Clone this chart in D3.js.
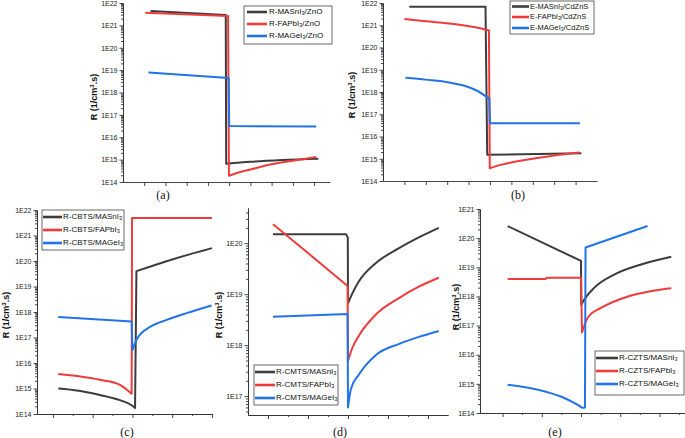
<!DOCTYPE html>
<html><head><meta charset="utf-8">
<script src="https://cdn.jsdelivr.net/npm/d3@7"></script>
<style>body{margin:0;background:#fff}svg{display:block}</style>
</head><body><svg id="c" width="685" height="438"></svg>
<script>
// ---------- DATA (position along device, arbitrary units ; R in 1/cm^3.s) ----------
// (a) ZnO
const aMASnI3 = [[1.3,4.4e21],[4.84,2.9e21],[4.86,6.5e14],[6.0,8.0e14],[7.5,9.6e14],[9.2,1.1e15]];
const aFAPbI3 = [[1.05,3.7e21],[4.95,2.6e21],[4.99,1.9e14],[5.4,2.6e14],[6.0,3.6e14],[7.0,6.2e14],[8.0,9.0e14],[9.1,1.3e15]];
const aMAGeI3 = [[1.2,7.8e18],[4.98,4.5e18],[5.0,3.2e16],[9.1,3.0e16]];
// (b) CdZnS
const bMASnI3 = [[1.23,6.7e21],[4.79,6.7e21],[4.87,1.5e15],[9.27,1.75e15]];
const bFAPbI3 = [[1.0,1.9e21],[2.0,1.5e21],[3.1,1.2e21],[3.9,9.4e20],[4.5,7.5e20],[4.95,5.8e20],[4.99,3.7e14],[5.5,5.3e14],[6.0,6.8e14],[7.0,1.0e15],[8.0,1.4e15],[9.2,1.9e15]];
const bMAGeI3 = [[1.05,4.4e18],[2.0,3.6e18],[3.1,2.7e18],[3.8,1.9e18],[4.35,1.2e18],[4.97,5.0e17],[5.0,3.9e16],[9.2,3.9e16]];
// (c) CBTS
const cMASnI3 = [[1.27,1.0e15],[2.3,8.2e14],[3.36,5.6e14],[4.37,3.5e14],[4.96,2.2e14],[5.13,1.7e14],[5.2,4.0e19],[7.0,1.15e20],[9.0,3.2e20]];
const cFAPbI3 = [[1.27,3.7e15],[2.3,3.0e15],[3.36,2.2e15],[4.37,1.4e15],[4.96,6.2e14],[4.98,4.9e21],[9.0,4.9e21]];
const cMAGeI3 = [[1.27,6.4e17],[4.96,4.2e17],[5.0,3.2e16],[5.2,8.0e16],[5.38,1.3e17],[5.88,2.6e17],[6.72,4.9e17],[7.72,9.0e17],[8.98,1.8e18]];
// (d) CMTS
const dMASnI3 = [[1.25,1.5e20],[4.9,1.5e20],[4.99,1.3e20],[5.0,6.6e18],[5.2,1.0e19],[5.53,1.75e19],[6.37,4.0e19],[7.53,7.9e19],[8.54,1.3e20],[9.54,2.0e20]];
const dFAPbI3 = [[1.25,2.35e20],[3.0,6.4e19],[4.98,1.45e19],[5.0,4.9e17],[5.2,8.5e17],[5.53,1.5e18],[6.37,3.9e18],[7.53,8.3e18],[8.54,1.4e19],[9.54,2.1e19]];
const dMAGeI3 = [[1.25,3.6e18],[4.98,4.1e18],[5.0,6.0e16],[5.15,1.4e17],[5.53,2.6e17],[6.37,6.3e17],[7.53,1.05e18],[8.54,1.45e18],[9.54,1.9e18]];
// (e) CZTS
const eMASnI3 = [[1.26,2.6e20],[5.0,1.65e19],[5.01,5.2e17],[5.2,8.5e17],[5.68,2.0e18],[6.71,5.7e18],[8.07,1.25e19],[9.6,2.3e19]];
const eFAPbI3 = [[1.26,4.0e18],[3.2,4.0e18],[3.25,4.4e18],[5.0,4.4e18],[5.05,5.8e16],[5.35,1.9e17],[6.04,4.1e17],[7.39,1.0e18],[8.76,1.6e18],[9.6,1.9e18]];
const eMAGeI3 = [[1.26,9.3e14],[2.8,6.3e14],[4.0,3.6e14],[4.84,1.9e14],[5.1,1.5e14],[5.2,1.55e14],[5.23,4.8e19],[8.39,2.6e20]];

// legend labels: [text, subscript, text]
const legendA = [["R-MASnI","3","/ZnO"],["R-FAPbI","3","/ZnO"],["R-MAGeI","3","/ZnO"]];
const legendB = [["E-MASnI","3","/CdZnS"],["E-FAPbI","3","/CdZnS"],["E-MAGeI","3","/CdZnS"]];
const legendC = [["R-CBTS/MASnI","3",""],["R-CBTS/FAPbI","3",""],["R-CBTS/MAGeI","3",""]];
const legendD = [["R-CMTS/MASnI","3",""],["R-CMTS/FAPbI","3",""],["R-CMTS/MAGeI","3",""]];
const legendE = [["R-CZTS/MASnI","3",""],["R-CZTS/FAPbI","3",""],["R-CZTS/MAGeI","3",""]];

// y tick exponents (labels "1E..")
const yTicksA = [14,15,16,17,18,19,20,21,22];
const yTicksB = [14,15,16,17,18,19,20,21,22];
const yTicksC = [14,15,16,17,18,19,20,21,22];
const yTicksD = [17,18,19,20];
const yTicksE = [14,15,16,17,18,19,20,21];
const panelLabels = ["(a)","(b)","(c)","(d)","(e)"];
const yTitle = ["R (1/cm","3",".s)"];

// ---------- DRAWING ----------
const COL = ["#3c3c3c","#f03b3b","#2373e8"];
const svg = d3.select("#c");
const FONT = "'Liberation Sans', Arial, sans-serif";

function pathFor(s, x, y){
  // split into smooth runs at abrupt jumps (very small x step)
  const runs = [[s[0]]];
  for (let i=1;i<s.length;i++){
    if (s[i][0]-s[i-1][0] < 0.1) runs.push([s[i]]);
    else runs[runs.length-1].push(s[i]);
  }
  const line = d3.line().x(d=>x(d[0])).y(d=>y(d[1])).curve(d3.curveMonotoneX);
  return runs.map((r,i)=>{
    let str = r.length>1 ? line(r) : `M${x(r[0][0])},${y(r[0][1])}`;
    if (i>0) str = "L" + str.slice(1);
    return str;
  }).join("");
}

function panel(cfg){
  const x = d3.scaleLinear().domain(cfg.xd).range(cfg.xr);
  const y = d3.scaleLog().domain(cfg.yd).range(cfg.yr);
  const g = svg.append("g");
  const minors = [];
  const lo = Math.floor(Math.log10(cfg.yd[0])), hi = Math.ceil(Math.log10(cfg.yd[1]));
  for (let e=lo; e<hi; e++) for (let m=2; m<=9; m++){ const v = m*Math.pow(10,e); if (v>=cfg.yd[0] && v<=cfg.yd[1]) minors.push(v); }
  g.append("g").attr("transform",`translate(${cfg.xr[0]},0)`)
    .call(d3.axisLeft(y).tickValues(minors).tickFormat("").tickSize(2).tickSizeOuter(0));
  const ya = g.append("g").attr("transform",`translate(${cfg.xr[0]},0)`)
    .call(d3.axisLeft(y).tickValues(cfg.yTicks.map(e=>Math.pow(10,e)))
      .tickFormat(d=>"1E"+Math.round(Math.log10(d))).tickSize(3.5).tickSizeOuter(0).tickPadding(2));
  ya.selectAll("text").attr("font-size",7).attr("font-family",FONT).attr("fill","#222");
  g.append("g").attr("transform",`translate(0,${cfg.yr[0]})`)
    .call(d3.axisBottom(x).tickValues(cfg.xMajor).tickFormat("").tickSize(4).tickSizeOuter(0));
  if (cfg.xMinor) g.append("g").attr("transform",`translate(0,${cfg.yr[0]})`)
    .call(d3.axisBottom(x).tickValues(cfg.xMinor).tickFormat("").tickSize(2).tickSizeOuter(0));
  g.selectAll(".domain, .tick line").attr("stroke","#333").attr("stroke-width",0.9);
  cfg.series.forEach((s,i)=>{
    g.append("path").attr("d",pathFor(s,x,y)).attr("fill","none")
      .attr("stroke",COL[i]).attr("stroke-width",2).attr("stroke-linejoin","round");
  });
  const yt = g.append("text").attr("transform",`translate(${cfg.yt[0]},${cfg.yt[1]}) rotate(-90)`)
    .attr("text-anchor","middle").attr("font-family",FONT).attr("font-weight","bold")
    .attr("font-size",9).attr("fill","#111").attr("dominant-baseline","middle");
  yt.append("tspan").text(yTitle[0]);
  yt.append("tspan").attr("dy",-3).attr("font-size",6).text(yTitle[1]);
  yt.append("tspan").attr("dy",3).text(yTitle[2]);
  const L = cfg.leg;
  g.append("rect").attr("x",L.box[0]).attr("y",L.box[1]).attr("width",L.box[2]).attr("height",L.box[3])
    .attr("fill","#fff").attr("stroke","#444").attr("stroke-width",0.8);
  cfg.labels.forEach((lab,i)=>{
    g.append("line").attr("x1",L.line[0]).attr("x2",L.line[1]).attr("y1",L.rows[i]).attr("y2",L.rows[i])
      .attr("stroke",COL[i]).attr("stroke-width",2.6);
    const t = g.append("text").attr("x",L.textX).attr("y",L.rows[i]).attr("dominant-baseline","middle")
      .attr("font-family",FONT).attr("font-size",L.fs).attr("fill","#111");
    t.append("tspan").text(lab[0]);
    t.append("tspan").attr("dy",2).attr("font-size",L.fs*0.7).text(lab[1]);
    t.append("tspan").attr("dy",-2).text(lab[2]);
  });
  g.append("text").attr("x",cfg.pl[0]).attr("y",cfg.pl[1]).attr("text-anchor","middle")
    .attr("font-family","'Liberation Serif', 'Times New Roman', serif").attr("font-size",12).attr("fill","#111")
    .text(cfg.plText);
}

const ones = [1,2,3,4,5,6,7,8,9];
panel({xd:[0,9.75], xr:[123,330], yd:[1e14,1e22], yr:[182,3], yTicks:yTicksA, xMajor:ones,
  series:[aMASnI3,aFAPbI3,aMAGeI3], labels:legendA, yt:[95,97], pl:[163,199], plText:panelLabels[0],
  leg:{box:[244,6,88,38], rows:[12,24,36], line:[247,267], textX:269, fs:8}});
panel({xd:[0,10], xr:[383,597], yd:[1e14,1e22], yr:[181,3], yTicks:yTicksB, xMajor:ones,
  series:[bMASnI3,bFAPbI3,bMAGeI3], labels:legendB, yt:[353,95], pl:[518,199], plText:panelLabels[1],
  leg:{box:[510,1,84,33], rows:[6.5,17,28], line:[512,529], textX:530, fs:7.5}});
panel({xd:[0.2,9], xr:[37,212], yd:[1e14,1e22], yr:[414,210], yTicks:yTicksC, xMajor:[1,3,5,7,9], xMinor:[2,4,6,8],
  series:[cMASnI3,cFAPbI3,cMAGeI3], labels:legendC, yt:[7,315], pl:[127,436], plText:panelLabels[2],
  leg:{box:[42,210,82,40], rows:[217,230,243], line:[43,62], textX:63, fs:8}});
panel({xd:[0,10], xr:[248,448], yd:[Math.pow(10,16.63),Math.pow(10,20.69)], yr:[415,208], yTicks:yTicksD, xMajor:[1,3,5,7,9], xMinor:[2,4,6,8],
  series:[dMASnI3,dFAPbI3,dMAGeI3], labels:legendD, yt:[220,315], pl:[340,436], plText:panelLabels[3],
  leg:{box:[254,365,84,40], rows:[372,385,398], line:[255,275], textX:276, fs:8}});
panel({xd:[-0.15,10.3], xr:[480,685], yd:[1e14,1e21], yr:[413,209], yTicks:yTicksE, xMajor:[1,3,5,7,9], xMinor:[2,4,6,8,10],
  series:[eMASnI3,eFAPbI3,eMAGeI3], labels:legendE, yt:[457,307], pl:[555,436], plText:panelLabels[4],
  leg:{box:[595,351,89,44], rows:[358,371,384], line:[596,618], textX:619, fs:8}});
</script>
</body></html>
